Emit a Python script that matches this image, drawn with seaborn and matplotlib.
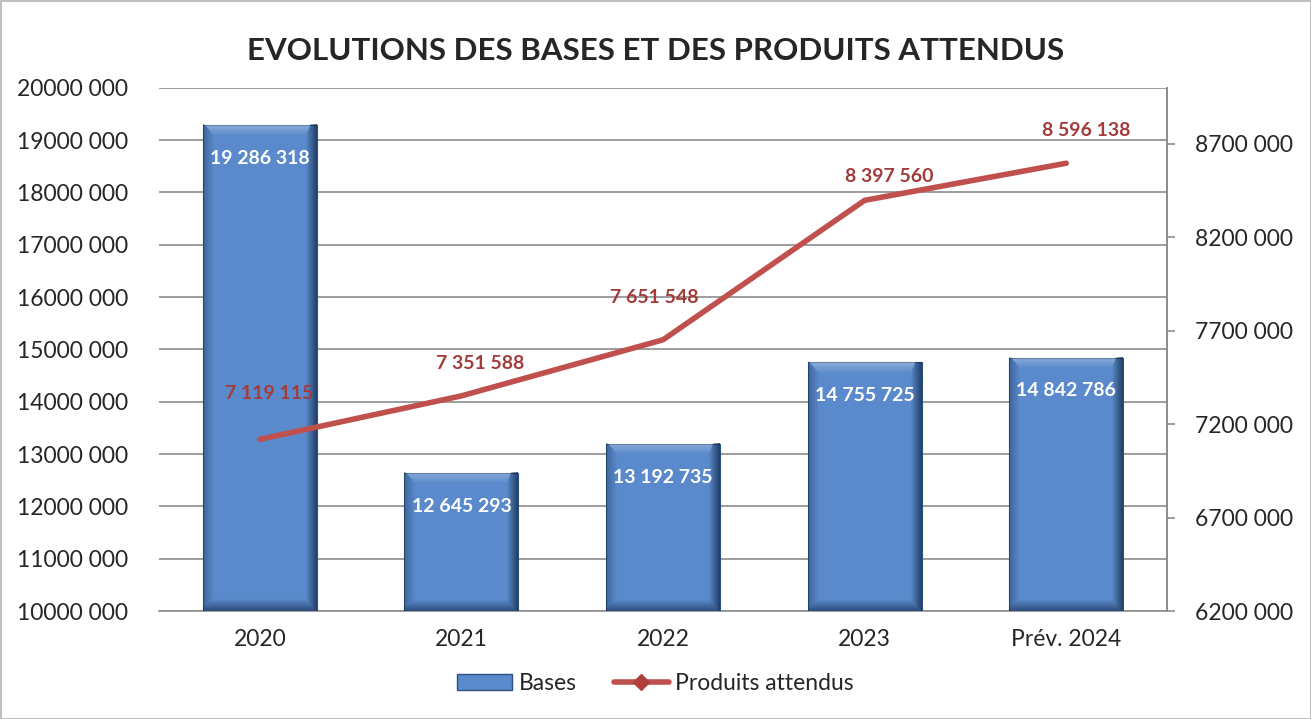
import matplotlib
matplotlib.use("Agg")
import matplotlib.pyplot as plt
import seaborn as sns
import pandas as pd
import numpy as np
from matplotlib.lines import Line2D
from matplotlib.patches import Patch

# data
years = ["2020", "2021", "2022", "2023", "Prév. 2024"]
bases = [19286318, 12645293, 13192735, 14755725, 14842786]
produits = [7119115, 7351588, 7651548, 8397560, 8596138]
# label offsets from line points (pixels), as seen in the reference
prod_label_dx = [9, 19, -9, 25, 20]
prod_label_dy = [46, 32, 42, 24, 33]

left_ticks = list(range(10000000, 20000001, 1000000))
right_ticks = list(range(6200000, 8700001, 500000))


def fmt(v):
    # same odd grouping as the original: only the last 3 digits separated
    v = int(round(v))
    return "{} {:03d}".format(v // 1000, v % 1000)


def fmt_full(v):
    return "{:,}".format(int(v)).replace(",", " ")


df = pd.DataFrame({"annee": years, "bases": bases, "produits": produits})
df["pos"] = range(len(df))

sns.set_style("white")
plt.rcParams["font.family"] = ["Lato", "DejaVu Sans"]

fig = plt.figure(figsize=(13.11, 7.19), dpi=100)
fig.patch.set_edgecolor("#BFBFBF")
fig.patch.set_linewidth(2)
ax = fig.add_axes([0.1213, 0.150, 0.7689, 0.728])

bar_col = "#5A8ACB"
ymin, ymax = 10000000, 20000000
sns.barplot(data=df, x="annee", y="bases", color=bar_col, width=0.565,
            saturation=1, ax=ax, zorder=3, edgecolor="#2E527F", linewidth=0.8)
ax.set_ylim(ymin, ymax)
ax.set_xlim(-0.5, len(years) - 0.5)

# bevel-like shading on each bar (only the visible part)
ny, nx = 300, 200
for bar in list(ax.patches):
    x0, w = bar.get_x(), bar.get_width()
    y0 = max(bar.get_y(), ymin)
    y1 = bar.get_y() + bar.get_height()
    hpx = (y1 - y0) / (ymax - ymin) * 523
    wpx = w * 202
    yy, xx = np.mgrid[0:hpx:ny * 1j, 0:wpx:nx * 1j]
    e = 11.0
    r = np.clip(1 - (wpx - xx) / e, 0, 1)        # right edge, dark
    l = np.clip(1 - xx / e, 0, 1) * 0.35          # left edge, a bit dark
    b = np.clip(1 - yy / e, 0, 1) * 0.6           # bottom edge, dark
    t = np.clip(1 - (hpx - yy) / e, 0, 1)         # top edge, light
    dark = np.maximum(np.maximum(r * 0.75, l), b)
    rgba = np.zeros((ny, nx, 4))
    rgba[..., 0] = 0.07
    rgba[..., 1] = 0.15
    rgba[..., 2] = 0.28
    rgba[..., 3] = dark
    light = (t > 0) & (t * 0.3 > dark)
    rgba[light, 0:3] = 1.0
    rgba[light, 3] = t[light] * 0.3
    ax.imshow(rgba, extent=(x0, x0 + w, y0, y1), origin="lower",
              aspect="auto", zorder=3.5, interpolation="bilinear")
ax.set_xlim(-0.5, len(years) - 0.5)
ax.set_ylim(ymin, ymax)

ax.set_yticks(left_ticks)
ax.set_yticklabels([fmt(t) for t in left_ticks], fontsize=16.5)
ax.yaxis.grid(True, color="#8C8C8C", linewidth=1.2, zorder=0)
ax.tick_params(axis="x", labelsize=16.5, length=0, pad=13)
ax.tick_params(axis="y", length=0, pad=22)
ax.set_xlabel("")
ax.set_ylabel("")
for s in ["left", "top"]:
    ax.spines[s].set_visible(False)
for s in ["bottom", "right"]:
    ax.spines[s].set_color("#8C8C8C")
    ax.spines[s].set_linewidth(1.2)

for p, v in zip(df["pos"], df["bases"]):
    ax.annotate(fmt_full(v), (p, v), xytext=(0, -24), textcoords="offset points",
                ha="center", va="center", color="white", fontsize=14,
                fontweight="bold", zorder=5)

ax2 = ax.twinx()
line_col = "#C0504D"
sns.lineplot(data=df, x="pos", y="produits", color=line_col, linewidth=4,
             ax=ax2, zorder=4)
ax2.set_ylim(6200000, 9000000)
ax2.set_yticks(right_ticks)
ax2.set_yticklabels([fmt(t) for t in right_ticks], fontsize=16.5)
ax2.tick_params(axis="y", length=6, width=1.2, color="#8C8C8C", pad=14)
ax2.set_ylabel("")
ax2.set_xlabel("")
for s in ["left", "top", "bottom"]:
    ax2.spines[s].set_visible(False)
ax2.spines["right"].set_color("#8C8C8C")
ax2.spines["right"].set_linewidth(1.2)

for p, v, dx, dy in zip(df["pos"], df["produits"], prod_label_dx, prod_label_dy):
    ax2.annotate(fmt_full(v), (p, v), xytext=(dx * 0.72, dy * 0.72),
                 textcoords="offset points", ha="center", va="center",
                 color="#A33B3B", fontsize=14, fontweight="bold")

fig.suptitle("EVOLUTIONS DES BASES ET DES PRODUITS ATTENDUS", y=0.948,
             fontsize=22.5, fontweight="bold")

handles = [Patch(facecolor=bar_col, edgecolor="#2E527F", label="Bases"),
           Line2D([0], [0], color=line_col, linewidth=4, marker="D", markersize=8,
                  markerfacecolor="#B0403D", markeredgecolor="#B0403D",
                  label="Produits attendus")]
fig.legend(handles=handles, loc="center", bbox_to_anchor=(0.5, 0.05), ncol=2,
           frameon=False, fontsize=16.5, handlelength=2.4, handletextpad=0.3,
           columnspacing=1.6)

fig.savefig("out.png", dpi=100)
